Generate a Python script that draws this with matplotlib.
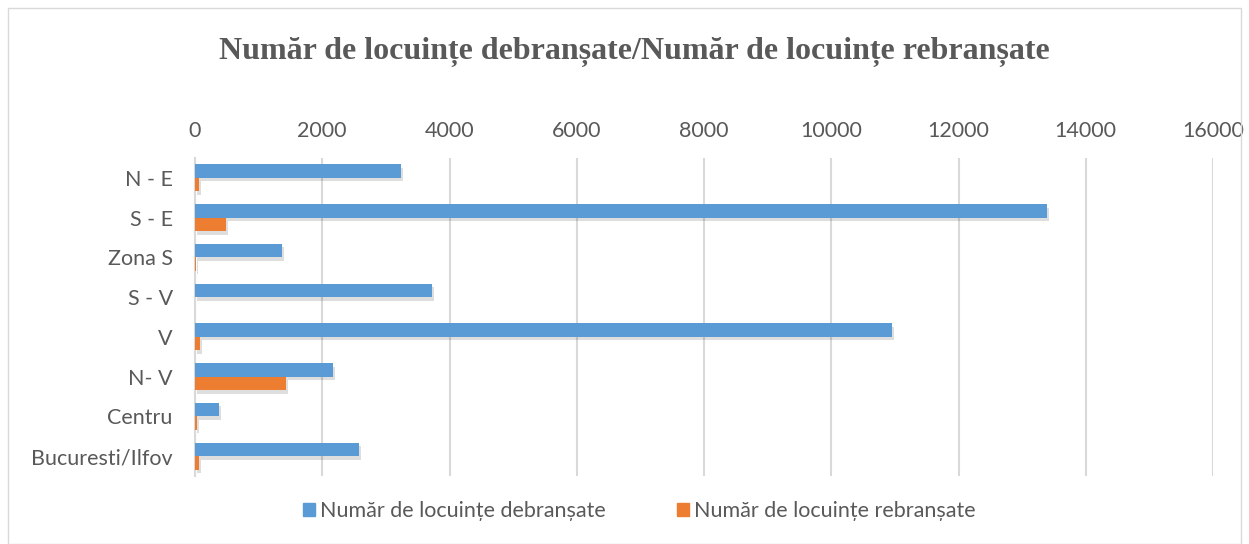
import matplotlib.pyplot as plt
import matplotlib.patheffects as pe
from matplotlib.patches import Patch
import numpy as np

categories = ["N - E", "S - E", "Zona S", "S - V", "V", "N- V", "Centru", "Bucuresti/Ilfov"]
debransate = [3230, 13390, 1370, 3720, 10950, 2170, 380, 2580]
rebransate = [60, 480, 10, 0, 80, 1430, 30, 60]

label_deb = "Număr de locuințe debranșate"
label_reb = "Număr de locuințe rebranșate"
title = "Număr de locuințe debranșate/Număr de locuințe rebranșate"

grey = "#595959"
blue = "#5B9BD5"
orange = "#ED7D31"
plt.rcParams['font.family'] = ['Lato', 'DejaVu Sans']

fig = plt.figure(figsize=(12.49, 5.44), dpi=100)
ax = fig.add_axes([195 / 1249, 1 - 476 / 544, (1213 - 195) / 1249, (476 - 158) / 544])

y = np.arange(len(categories))
h = 0.34
shadow = [pe.SimplePatchShadow(offset=(1.5, -2.5), shadow_rgbFace='#000000', alpha=0.13), pe.Normal()]
b1 = ax.barh(y - h / 2, debransate, height=h, color=blue, zorder=3)
b2 = ax.barh(y + h / 2, rebransate, height=h, color=orange, zorder=3)
for b in list(b1) + list(b2):
    b.set_path_effects(shadow)

ax.set_xlim(0, 16000)
ax.set_ylim(len(categories) - 0.5, -0.5)
ax.set_xticks(np.arange(0, 16001, 2000))
ax.set_yticks(y)
ax.set_yticklabels(categories)
ax.xaxis.tick_top()
ax.tick_params(axis='x', length=0, pad=12, labelsize=15.5, colors=grey)
ax.tick_params(axis='y', length=0, pad=16, labelsize=15.5, colors=grey)
ax.grid(axis='x', color="#d9d9d9", linewidth=1.5, zorder=0)
for s in ['top', 'right', 'bottom']:
    ax.spines[s].set_visible(False)
ax.spines['left'].set_color("#d9d9d9")
ax.spines['left'].set_linewidth(1.5)

fig.text(0.508, 1 - 52 / 544, title, ha='center', va='center', fontsize=23,
         fontweight='bold', family=['Liberation Serif'], color=grey)

handles = [Patch(color=blue, label=label_deb), Patch(color=orange, label=label_reb)]
leg = fig.legend(handles=handles, loc='center', bbox_to_anchor=(0.512, 1 - 511 / 544),
                 ncol=2, frameon=False, fontsize=15.5, handlelength=0.55, handleheight=0.55,
                 handletextpad=0.25, columnspacing=3.3)
for t in leg.get_texts():
    t.set_color(grey)

# chart border
fig.patches.append(plt.Rectangle((8 / 1249, 0), 1 - 16 / 1249, 1 - 8 / 544, transform=fig.transFigure,
                                 fill=False, edgecolor="#d9d9d9", linewidth=1))

fig.savefig("out.png", dpi=100)
